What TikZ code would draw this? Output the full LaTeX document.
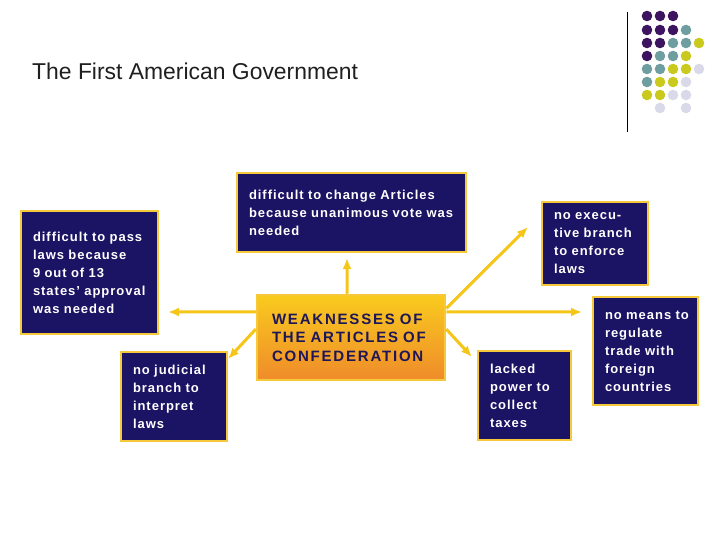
\documentclass[tikz,border=0pt]{standalone}
\usepackage{fontspec}
\setmainfont{Liberation Sans}
\newfontfamily\boxfont{Liberation Sans}[LetterSpace=7.5,Ligatures=CommonOff]
\newfontfamily\wkfont{Liberation Sans}[LetterSpace=12,Ligatures=CommonOff]
\usetikzlibrary{arrows.meta}
\definecolor{navy}{HTML}{1B1363}
\definecolor{rim}{HTML}{F5C93A}
\definecolor{gold}{HTML}{F5C518}
\definecolor{wktop}{HTML}{F9CB1E}
\definecolor{wkbot}{HTML}{EF8B2A}
\definecolor{wktext}{HTML}{1D1657}
\definecolor{dPur}{HTML}{3D1460}
\definecolor{dTeal}{HTML}{6F9EA0}
\definecolor{dYel}{HTML}{C9C91E}
\definecolor{dLav}{HTML}{D9D9E9}
\newcommand{\GoldTip}{Latex[length=11,width=9]}
\tikzset{gbox/.style={draw=rim,line width=2.5pt,fill=navy,text=white,inner xsep=12pt,align=left,font=\boxfont\bfseries\fontsize{13}{18}\selectfont}}
\tikzset{garrow/.style={draw=gold,line width=3pt,arrows={-\GoldTip}}}
\tikzset{dotP/.style={fill=dPur},dotT/.style={fill=dTeal},dotY/.style={fill=dYel},dotL/.style={fill=dLav}}
\begin{document}
\begin{tikzpicture}[x=1pt,y=-1pt]
\useasboundingbox(0,0)rectangle(720,540);
\node(title)[anchor=west,inner sep=0,text=black!88,font=\fontsize{22.9}{27}\selectfont]at(32,71){The First American Government};
\draw[line width=.8pt](627,12)--(627,132);
\foreach \r/\cs in {16/{P,P,P},30/{P,P,P,T},43/{P,P,T,T,Y},56/{P,T,T,Y},69/{T,T,Y,Y,L},82/{T,Y,Y,L},95/{Y,Y,L,L}}
 {\foreach \c[count=\i from 0] in \cs {\fill[dot\c](647+13*\i,\r)circle(5.3pt);}}
\fill[dotL](660,108)circle(5.3pt);\fill[dotL](686,108)circle(5.3pt);
\node(pass)[gbox,text width=113pt,minimum height=123pt]at(89.5,272.5){difficult~to~pass\\laws~because\\9~out~of~13\\states’~approval\\was~needed};
\node(chg)[gbox,text width=205pt,minimum height=79pt]at(351.5,212.5){difficult~to~change~Articles\\because~unanimous~vote~was\\needed};
\node(jud)[gbox,text width=82pt,minimum height=89pt]at(174,396.5){no~judicial\\branch~to\\interpret\\laws};
\node(tax)[gbox,text width=69pt,minimum height=89pt]at(524.5,395.5){lacked\\power~to\\collect\\taxes};
\node(exe)[gbox,text width=82pt,minimum height=83pt]at(595,243.5){no~execu-\\tive~branch\\to~enforce\\laws};
\node(trd)[gbox,text width=81pt,minimum height=108pt]at(645.5,351){no~means~to\\regulate\\trade~with\\foreign\\countries};
\node(wk)[draw=rim,line width=2.5pt,top color=wktop,bottom color=wkbot,text=wktext,inner xsep=15pt,text width=158pt,minimum height=85pt,align=left,font=\wkfont\bfseries\fontsize{15}{18.5}\selectfont]at(351,337.5){WEAKNESSES~OF\\THE~ARTICLES~OF\\CONFEDERATION};
\coordinate(tpass)at(168,312);\coordinate(tjud)at(228,359);\coordinate(tchg)at(347,258);
\coordinate(texe)at(528,227);\coordinate(ttrd)at(582,312);\coordinate(ttax)at(472,357);
\draw[garrow](wk.165)--(tpass);\draw[garrow](wk.175)--(tjud);\draw[garrow](wk.95)--(tchg);
\draw[garrow](wk.17)--(texe);\draw[garrow](wk.15)--(ttrd);\draw[garrow](wk.5)--(ttax);
\end{tikzpicture}
\end{document}
